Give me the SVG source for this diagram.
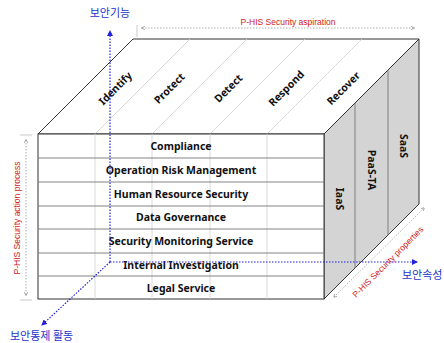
<svg xmlns="http://www.w3.org/2000/svg" width="444" height="343" viewBox="0 0 444 343">
  <style>
    .edge { fill: none; stroke: #333; stroke-width: 1; }
    .faint { stroke: #d0d0d0; stroke-width: 0.8; fill: none; }
    .row { stroke: #777; stroke-width: 0.9; }
    .lbl { font-family: "Noto Sans", "Liberation Sans", sans-serif; font-weight: bold; font-size: 10.5px; fill: #111; text-anchor: middle; }
    .axis { stroke: #2222dd; stroke-width: 1.2; stroke-dasharray: 1.5 1.5; fill: none; }
    .axlbl { font-family: "Noto Sans CJK KR", "Noto Sans", sans-serif; font-size: 11px; fill: #2233cc; }
    .dim { stroke: #999; stroke-width: 0.8; stroke-dasharray: 1.5 1.5; fill: none; }
    .dimlbl { font-family: "Liberation Sans", "Noto Sans", sans-serif; font-size: 8.5px; fill: #d02020; }
  </style>
  <defs>
    <marker id="blueHead" viewBox="0 0 6 6" refX="5" refY="3" markerWidth="5" markerHeight="5" orient="auto-start-reverse">
      <path d="M0,0 L6,3 L0,6 z" fill="#2222dd"/>
    </marker>
    <marker id="grayHead" viewBox="0 0 6 6" refX="5" refY="3" markerWidth="5" markerHeight="5" orient="auto-start-reverse">
      <path d="M0,0 L6,3 L0,6" fill="none" stroke="#888" stroke-width="1"/>
    </marker>
  </defs>

  <!-- cube: top face -->
  <g id="top-face">
    <polygon points="38,134 133,39 419,39 324,134" fill="#fff" stroke="#333" stroke-width="1"/>
    <line class="faint" x1="95" y1="134" x2="190" y2="39"/>
    <line class="faint" x1="152" y1="134" x2="247" y2="39"/>
    <line class="faint" x1="210" y1="134" x2="305" y2="39"/>
    <line class="faint" x1="267" y1="134" x2="362" y2="39"/>
    <text class="lbl" transform="translate(118,91) rotate(-45)">Identify</text>
    <text class="lbl" transform="translate(172,91) rotate(-45)">Protect</text>
    <text class="lbl" transform="translate(231,91) rotate(-45)">Detect</text>
    <text class="lbl" transform="translate(289,91) rotate(-45)">Respond</text>
    <text class="lbl" transform="translate(346,91) rotate(-45)">Recover</text>
  </g>

  <!-- cube: right face -->
  <g id="right-face">
    <polygon points="324,134 419,39 419,204 324,299" fill="#d4d4d4" stroke="#333" stroke-width="1"/>
    <line x1="355" y1="103" x2="355" y2="268" stroke="#777" stroke-width="0.9"/>
    <line x1="388" y1="70" x2="388" y2="235" stroke="#777" stroke-width="0.9"/>
    <text class="lbl" transform="translate(336,199) rotate(90)">IaaS</text>
    <text class="lbl" transform="translate(368,170) rotate(90)">PaaS-TA</text>
    <text class="lbl" transform="translate(400,146) rotate(90)">SaaS</text>
  </g>

  <!-- cube: front face -->
  <g id="front-face">
    <rect x="38" y="134" width="286" height="165" fill="#fff" stroke="#333" stroke-width="1"/>
    <line class="faint" x1="95" y1="134" x2="95" y2="299"/>
    <line class="faint" x1="152" y1="134" x2="152" y2="299"/>
    <line class="faint" x1="210" y1="134" x2="210" y2="299"/>
    <line class="faint" x1="267" y1="134" x2="267" y2="299"/>
    <line class="row" x1="38" y1="158" x2="324" y2="158"/>
    <line class="row" x1="38" y1="182" x2="324" y2="182"/>
    <line class="row" x1="38" y1="206" x2="324" y2="206"/>
    <line class="row" x1="38" y1="229" x2="324" y2="229"/>
    <line class="row" x1="38" y1="253" x2="324" y2="253"/>
    <line class="row" x1="38" y1="276" x2="324" y2="276"/>
  </g>
  <g id="row-compliance"><text class="lbl" x="181" y="150">Compliance</text></g>
  <g id="row-orm"><text class="lbl" x="181" y="174">Operation Risk Management</text></g>
  <g id="row-hrs"><text class="lbl" x="181" y="198">Human Resource Security</text></g>
  <g id="row-dg"><text class="lbl" x="181" y="221">Data Governance</text></g>
  <g id="row-sms"><text class="lbl" x="181" y="245">Security Monitoring Service</text></g>
  <g id="row-ii"><text class="lbl" x="181" y="269">Internal Investigation</text></g>
  <g id="row-ls"><text class="lbl" x="181" y="292">Legal Service</text></g>

  <!-- blue axes -->
  <g id="connectors">
    <polyline class="axis" points="110,262 110,31" marker-end="url(#blueHead)"/>
    <polyline class="axis" points="110,262 417,262" marker-end="url(#blueHead)"/>
    <polyline class="axis" points="110,262 42,325" marker-end="url(#blueHead)"/>

    <!-- dimension guides -->
    <line x1="137" y1="25" x2="137" y2="37" stroke="#bbb" stroke-width="0.8"/>
    <line class="dim" x1="142" y1="28" x2="414" y2="28" marker-start="url(#grayHead)" marker-end="url(#grayHead)"/>
    <line x1="20" y1="135" x2="32" y2="135" stroke="#bbb" stroke-width="0.8"/>
    <line x1="20" y1="300" x2="32" y2="300" stroke="#bbb" stroke-width="0.8"/>
    <line class="dim" x1="26" y1="140" x2="26" y2="295" marker-start="url(#grayHead)" marker-end="url(#grayHead)"/>
    <line class="dim" x1="334" y1="297" x2="424" y2="208" marker-start="url(#grayHead)" marker-end="url(#grayHead)"/>
  </g>

  <g id="axis-labels">
    <text class="axlbl" x="110" y="17" text-anchor="middle">보안기능</text>
    <text class="axlbl" x="402" y="279">보안속성</text>
    <text class="axlbl" x="10" y="340">보안통제 활동</text>
  </g>

  <g id="dimension-labels">
    <text class="dimlbl" x="288" y="25" text-anchor="middle">P-HIS Security aspiration</text>
    <text class="dimlbl" transform="translate(20,218) rotate(-90)" text-anchor="middle">P-HIS Security action process</text>
    <text class="dimlbl" transform="translate(390,264) rotate(-45)" text-anchor="middle">P-HIS Security properties</text>
  </g>
</svg>
